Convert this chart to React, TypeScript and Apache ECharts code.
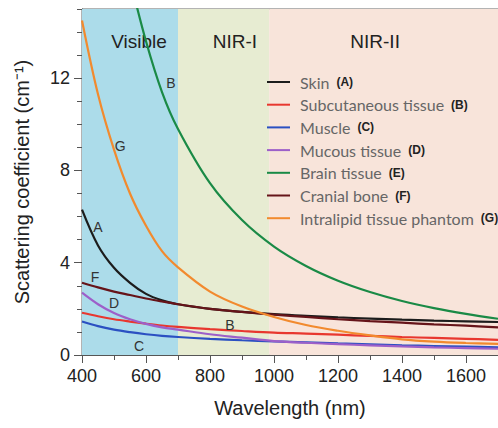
import React, { useEffect, useRef } from "react";
import * as echarts from "echarts";

// Wavelength grid (nm)
const wavelengths = [400, 450, 500, 550, 600, 650, 700, 800, 900, 1000, 1100, 1200, 1300, 1400, 1500, 1600, 1700];

// Scattering coefficients (cm^-1)
const skin = [6.3, 4.75, 3.78, 3.13, 2.65, 2.37, 2.2, 2.0, 1.87, 1.77, 1.7, 1.63, 1.58, 1.53, 1.49, 1.46, 1.43];
const subcutaneous = [1.83, 1.68, 1.55, 1.45, 1.36, 1.28, 1.22, 1.12, 1.04, 0.97, 0.93, 0.88, 0.83, 0.78, 0.74, 0.7, 0.66];
const muscle = [1.45, 1.25, 1.1, 0.99, 0.9, 0.83, 0.78, 0.7, 0.64, 0.59, 0.55, 0.5, 0.46, 0.42, 0.39, 0.36, 0.33];
const mucous = [2.7, 2.2, 1.82, 1.55, 1.35, 1.2, 1.1, 0.9, 0.75, 0.6, 0.53, 0.47, 0.42, 0.37, 0.33, 0.3, 0.27];
const brain = [null, null, null, 16.3, 13.6, 11.4, 9.8, 7.45, 5.85, 4.7, 3.86, 3.22, 2.73, 2.34, 2.03, 1.78, 1.57];
const cranial = [3.13, 2.93, 2.75, 2.6, 2.45, 2.32, 2.2, 2.0, 1.87, 1.75, 1.65, 1.55, 1.47, 1.4, 1.33, 1.27, 1.2];
const intralipid = [14.5, 11.3, 8.9, 7.0, 5.6, 4.5, 3.8, 2.75, 2.1, 1.65, 1.3, 1.05, 0.85, 0.68, 0.58, 0.52, 0.48];

const seriesNames = [
  "Skin",
  "Subcutaneous tissue",
  "Muscle",
  "Mucous tissue",
  "Brain tissue",
  "Cranial bone",
  "Intralipid tissue phantom",
];
const seriesLetters = ["(A)", "(B)", "(C)", "(D)", "(E)", "(F)", "(G)"];
const seriesValues = [skin, subcutaneous, muscle, mucous, brain, cranial, intralipid];
const seriesColors = ["#1c1c1c", "#e8372f", "#2b50c2", "#9d5fc9", "#1a8a46", "#661419", "#f28a2e"];

// Spectral bands
const bandNames = ["Visible", "NIR-I", "NIR-II"];
const bandStarts = [400, 700, 985];
const bandEnds = [700, 985, 1700];
const bandColors = ["#acdcea", "#e7ecd2", "#f8e4da"];
const bandLabelX = [578, 878, 1316];
const bandLabelY = 13.6;

// Curve annotation letters (as printed in the figure)
const curveLabelText = ["A", "F", "D", "C", "B", "G", "B"];
const curveLabelX = [450, 441, 500, 578, 862, 519, 678];
const curveLabelY = [5.57, 3.39, 2.26, 0.39, 1.3, 9.04, 11.8];

// Axis ticks
const xMin = 400;
const xMax = 1700;
const xMajor = 200;
const xMinor = 100;
const yMin = 0;
const yMax = 15;
const yMajor = 4;
const yMinor = 1;

const FONT = "'Liberation Sans', Arial, sans-serif";

export default function App() {
  const ref = useRef<HTMLDivElement>(null);

  useEffect(() => {
    if (!ref.current) return;
    const chart = echarts.init(ref.current, undefined, { renderer: "svg" });

    const letterOf: Record<string, string> = {};
    seriesNames.forEach((n, i) => (letterOf[n] = seriesLetters[i]));

    const annotations = [
      ...bandNames.map((n, i) => ({
        name: n,
        coord: [bandLabelX[i], bandLabelY],
        label: { fontSize: 19, color: "#222" },
      })),
      ...curveLabelText.map((t, i) => ({
        name: t,
        coord: [curveLabelX[i], curveLabelY[i]],
      })),
    ];

    const series: any[] = seriesNames.map((name, i) => ({
      type: "line",
      name,
      data: wavelengths.map((w, j) => [w, seriesValues[i][j]]),
      smooth: 0.35,
      symbol: "none",
      clip: true,
      connectNulls: false,
      lineStyle: { width: 2.2, color: seriesColors[i] },
      itemStyle: { color: seriesColors[i] },
      z: 3 + i,
    }));

    series[0].markArea = {
      silent: true,
      label: { show: false },
      data: bandNames.map((_, i) => [
        { xAxis: bandStarts[i], itemStyle: { color: bandColors[i] } },
        { xAxis: bandEnds[i] },
      ]),
    };
    series[0].markPoint = {
      silent: true,
      symbol: "rect",
      symbolSize: 1,
      itemStyle: { color: "transparent" },
      label: {
        show: true,
        position: "inside",
        formatter: "{b}",
        color: "#333",
        fontSize: 14,
        fontFamily: FONT,
      },
      data: annotations,
    };

    chart.setOption({
      animation: false,
      backgroundColor: "#ffffff",
      textStyle: { fontFamily: FONT },
      grid: {
        left: 82,
        top: 9,
        right: -1,
        bottom: 73,
        show: true,
        borderColor: "#666",
        borderWidth: 1,
        backgroundColor: "transparent",
      },
      legend: {
        orient: "vertical",
        left: 267,
        top: 74,
        padding: 0,
        itemWidth: 23,
        itemHeight: 2,
        itemGap: 6.7,
        icon: "rect",
        selectedMode: false,
        data: seriesNames,
        formatter: (name: string) => `{n|${name}}{l|${letterOf[name]}}`,
        textStyle: {
          rich: {
            n: {
              fontFamily: "Lato, 'Liberation Sans', sans-serif",
              fontSize: 16,
              color: "#666",
              lineHeight: 16,
              padding: [0, 0, 0, 5],
            },
            l: {
              fontFamily: FONT,
              fontWeight: "bold",
              fontSize: 12,
              color: "#222",
              lineHeight: 16,
              padding: [0, 0, 0, 7],
            },
          },
        },
      },
      xAxis: [
        {
          type: "value",
          min: xMin,
          max: xMax,
          interval: xMajor,
          position: "bottom",
          name: "Wavelength (nm)",
          nameLocation: "middle",
          nameGap: 43,
          nameTextStyle: { fontSize: 20, color: "#222", fontFamily: FONT },
          axisLine: { show: true, lineStyle: { color: "#555", width: 1 } },
          axisTick: { show: true, length: 8, lineStyle: { color: "#555" } },
          axisLabel: {
            fontSize: 18,
            color: "#222",
            margin: 12,
            showMaxLabel: false,
            fontFamily: FONT,
            formatter: (v: number) => String(v),
          },
          splitLine: { show: false },
        },
        {
          type: "value",
          min: xMin,
          max: xMax,
          interval: xMinor,
          position: "bottom",
          axisLine: { show: false },
          axisTick: { show: true, length: 5, lineStyle: { color: "#555" } },
          axisLabel: { show: false },
          splitLine: { show: false },
        },
      ],
      yAxis: [
        {
          type: "value",
          min: yMin,
          max: yMax,
          interval: yMajor,
          position: "left",
          name: "Scattering coefficient (cm⁻¹)",
          nameLocation: "middle",
          nameGap: 50,
          nameTextStyle: { fontSize: 20, color: "#222", fontFamily: FONT },
          axisLine: { show: true, lineStyle: { color: "#555", width: 1 } },
          axisTick: { show: true, length: 8, lineStyle: { color: "#555" } },
          axisLabel: {
            fontSize: 18,
            color: "#222",
            margin: 12,
            showMaxLabel: false,
            fontFamily: FONT,
            formatter: (v: number) => String(v),
          },
          splitLine: { show: false },
        },
        {
          type: "value",
          min: yMin,
          max: yMax,
          interval: yMinor,
          position: "left",
          axisLine: { show: false },
          axisTick: { show: true, length: 5, lineStyle: { color: "#555" } },
          axisLabel: { show: false },
          splitLine: { show: false },
        },
      ],
      series,
    });

    return () => chart.dispose();
  }, []);

  return (
    <div
      ref={ref}
      style={{ position: "fixed", left: 0, top: 0, width: 498, height: 428 }}
    />
  );
}
